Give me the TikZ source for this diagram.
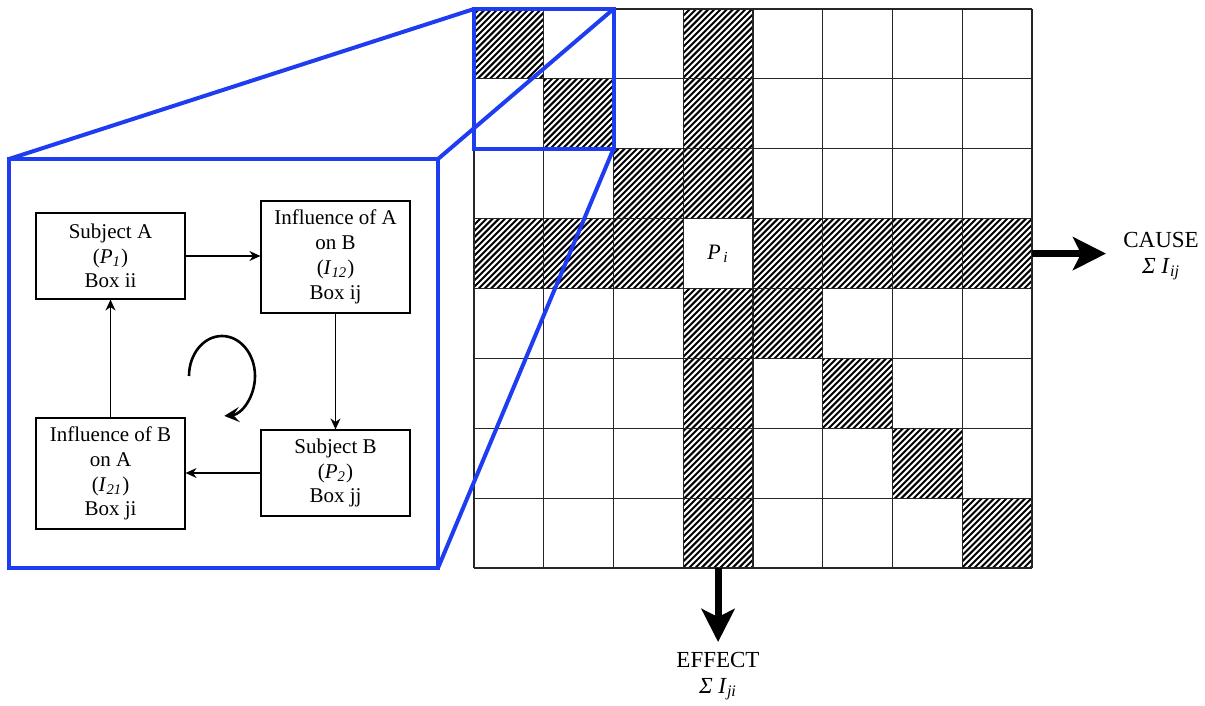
\documentclass[tikz,border=0pt]{standalone}
\usepackage{fontspec}
\setmainfont{Liberation Serif}
\usetikzlibrary{arrows.meta}
\definecolor{zoomblue}{RGB}{30,60,240}
\begin{document}
\begin{tikzpicture}[x=0.5pt,y=-0.5pt,
  hatchline/.style={line width=1.0pt, black},
  gridline/.style={line width=0.55pt, draw=black!85},
  zoomline/.style={draw=zoomblue, line width=2pt, line join=miter},
  flowbox/.style={draw, line width=0.6pt, align=center, inner sep=0pt, minimum width=74.5pt, font=\fontsize{10.5}{12.4}\selectfont},
  flowarrow/.style={-{Stealth[length=5.5pt,width=5pt,inset=1.8pt]}, line width=0.6pt},
  bigarrow/.style={-{Stealth[length=16.5pt,width=16.5pt,inset=4pt]}, line width=3.6pt},
  bigtext/.style={align=center, inner sep=0pt, font=\fontsize{11.5}{13}\selectfont}]
\useasboundingbox (0,0) rectangle (1205,706);

% hatched cells
\begin{scope}
  \clip
  \foreach \c/\r in {0/0,3/0,1/1,3/1,2/2,3/2,0/3,1/3,2/3,4/3,5/3,6/3,7/3,3/4,4/4,3/5,5/5,3/6,6/6,3/7,7/7}
    { ({474+69.75*\c},{9+69.875*\r}) rectangle ++(69.75,69.875) };
  \foreach \k in {0,...,190}
    \draw[hatchline] ({474-560+6.2*\k},568) -- ++(560,-560);
\end{scope}

% grid
\foreach \i in {0,...,8} {
  \draw[gridline] ({474+69.75*\i},9) -- ({474+69.75*\i},568);
  \draw[gridline] (474,{9+69.875*\i}) -- (1032,{9+69.875*\i});
}

\node (pi) at (718.1,253.6) {\fontsize{11}{12}\selectfont\textit{P}\textsubscript{\,\textit{i}}};

% zoom frame
\coordinate (s1) at (474,9);
\coordinate (s2) at (613.5,9);
\coordinate (s3) at (613.5,148.75);
\coordinate (b1) at (9,159);
\coordinate (b2) at (438,159);
\coordinate (b3) at (438,568);
\draw[zoomline] (s1) rectangle (s3);
\draw[zoomline] (b1) rectangle (b3);
\draw[zoomline] (s1) -- (b1);
\draw[zoomline] (s2) -- (b2);
\draw[zoomline] (s3) -- (b3);

% flow boxes
\node[flowbox, minimum height=43pt] (sa) at (110.5,256) {Subject A\\(\textit{P}\textsubscript{\textit{1}})\\Box ii};
\node[flowbox, minimum height=56pt] (ia) at (335.5,257) {Influence of A\\on B\\(\textit{I}\textsubscript{\textit{12}})\\Box ij};
\node[flowbox, minimum height=55.5pt] (ib) at (110.5,473.5) {Influence of B\\on A\\(\textit{I}\textsubscript{\textit{21}})\\Box ji};
\node[flowbox, minimum height=43pt] (sb) at (335.5,473) {Subject B\\(\textit{P}\textsubscript{\textit{2}})\\Box jj};

\draw[flowarrow] (sa.east) -- (sa.east -| ia.west);
\draw[flowarrow] (ia.south) -- (sb.north);
\draw[flowarrow] (sb.west) -- (sb.west -| ib.east);
\draw[flowarrow] (ib.north) -- (sa.south);

\coordinate (loopstart) at (189,376);
\draw[line width=1.3pt, -{Stealth[length=7.5pt,width=7.5pt,inset=3pt]}] (loopstart) arc[start angle=180, end angle=-86, x radius=16.5pt, y radius=20pt];

% cause / effect
\coordinate (gridE) at (1032,253.6);
\coordinate (causeTip) at (1106,253.6);
\coordinate (gridS) at (718.1,568);
\coordinate (effectTip) at (718.1,642);
\draw[bigarrow] (gridE) -- (causeTip);
\draw[bigarrow] (gridS) -- (effectTip);
\node[bigtext] (cause) at (1161,256) {CAUSE\\\textit{Σ I}\textsubscript{\textit{ij}}};
\node[bigtext] (effect) at (718,676) {EFFECT\\\textit{Σ I}\textsubscript{\textit{ji}}};
\end{tikzpicture}
\end{document}
